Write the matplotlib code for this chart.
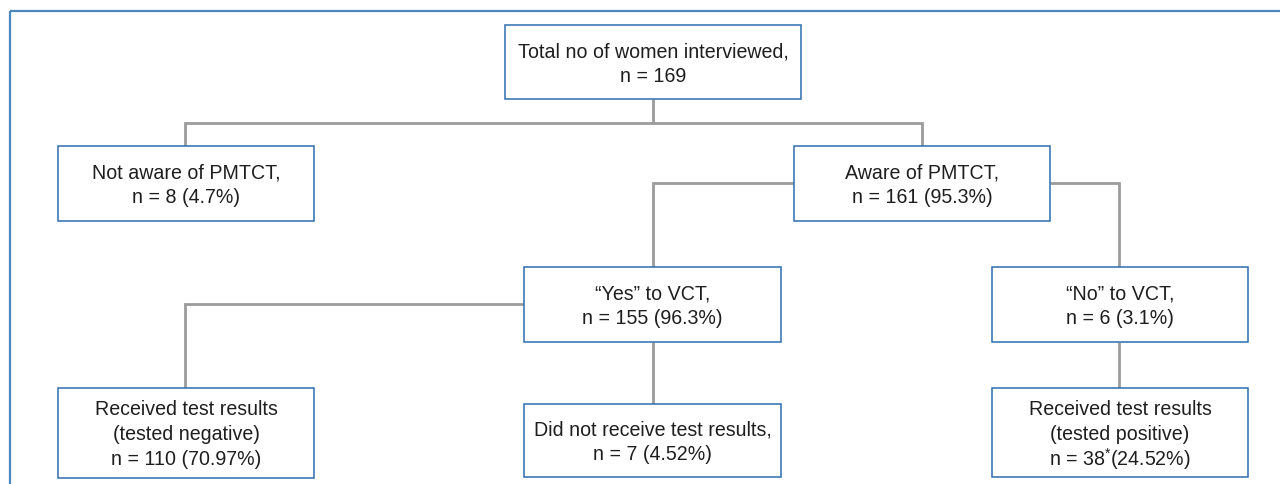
import matplotlib
matplotlib.use("Agg")
import matplotlib.pyplot as plt
from matplotlib.patches import Rectangle

plt.rcParams['font.family'] = ['Liberation Sans', 'DejaVu Sans']
plt.rcParams['mathtext.fontset'] = 'custom'
plt.rcParams['mathtext.rm'] = 'Liberation Sans'
plt.rcParams['mathtext.it'] = 'Liberation Sans'

# node labels (one string per line)
node_names = ['total', 'not_aware', 'aware', 'yes_vct', 'no_vct',
              'neg', 'no_result', 'pos']
node_lines = [
    ['Total no of women interviewed,', 'n = 169'],
    ['Not aware of PMTCT,', 'n = 8 (4.7%)'],
    ['Aware of PMTCT,', 'n = 161 (95.3%)'],
    ['\u201cYes\u201d to VCT,', 'n = 155 (96.3%)'],
    ['\u201cNo\u201d to VCT,', 'n = 6 (3.1%)'],
    ['Received test results', '(tested negative)', 'n = 110 (70.97%)'],
    ['Did not receive test results,', 'n = 7 (4.52%)'],
    ['Received test results', '(tested positive)', 'n = 38$^{*}$(24.52%)'],
]

# box geometry in pixel coords: left, top, right, bottom
box_geom = {
    'total':     (505, 26, 801, 100),
    'not_aware': (58, 147, 314, 222),
    'aware':     (794, 147, 1050, 222),
    'yes_vct':   (524, 268, 781, 343),
    'no_vct':    (992, 268, 1248, 343),
    'neg':       (58, 389, 314, 479),
    'no_result': (524, 405, 781, 478),
    'pos':       (992, 389, 1248, 478),
}

# elbow connectors as polylines (pixel coords)
connectors = [
    [(653, 100), (653, 124)],
    [(185, 147), (185, 124), (922, 124), (922, 147)],
    [(794, 184), (653, 184), (653, 268)],
    [(1050, 184), (1119, 184), (1119, 268)],
    [(524, 305), (185, 305), (185, 389)],
    [(653, 343), (653, 405)],
    [(1119, 343), (1119, 389)],
]

W, H = 1280, 485
fig = plt.figure(figsize=(W / 100, H / 100), dpi=100)
ax = fig.add_axes([0, 0, 1, 1])
ax.set_xlim(0, W)
ax.set_ylim(H, 0)
ax.axis('off')

# outer frame (runs off the right and bottom edge)
ax.add_patch(Rectangle((10, 12), 1300, 500, fill=False,
                       edgecolor='#4a88bf', lw=1.6, zorder=1))

for pts in connectors:
    xs, ys = zip(*pts)
    ax.plot(xs, ys, color='#9c9c9c', lw=2.0, solid_capstyle='butt',
            solid_joinstyle='miter', zorder=2)

line_gap = 25
for name, lines in zip(node_names, node_lines):
    x0, y0, x1, y1 = box_geom[name]
    ax.add_patch(Rectangle((x0, y0), x1 - x0, y1 - y0, facecolor='white',
                           edgecolor='#2e6db0', lw=1.1, zorder=3))
    cx = (x0 + x1) / 2
    cy = (y0 + y1) / 2 + 1
    n = len(lines)
    for i, txt in enumerate(lines):
        ty = cy + (i - (n - 1) / 2) * line_gap
        ax.text(cx, ty, txt, ha='center', va='center', fontsize=14.1,
                color='#1e1e1e', zorder=4)

fig.savefig('out.png', dpi=100)
